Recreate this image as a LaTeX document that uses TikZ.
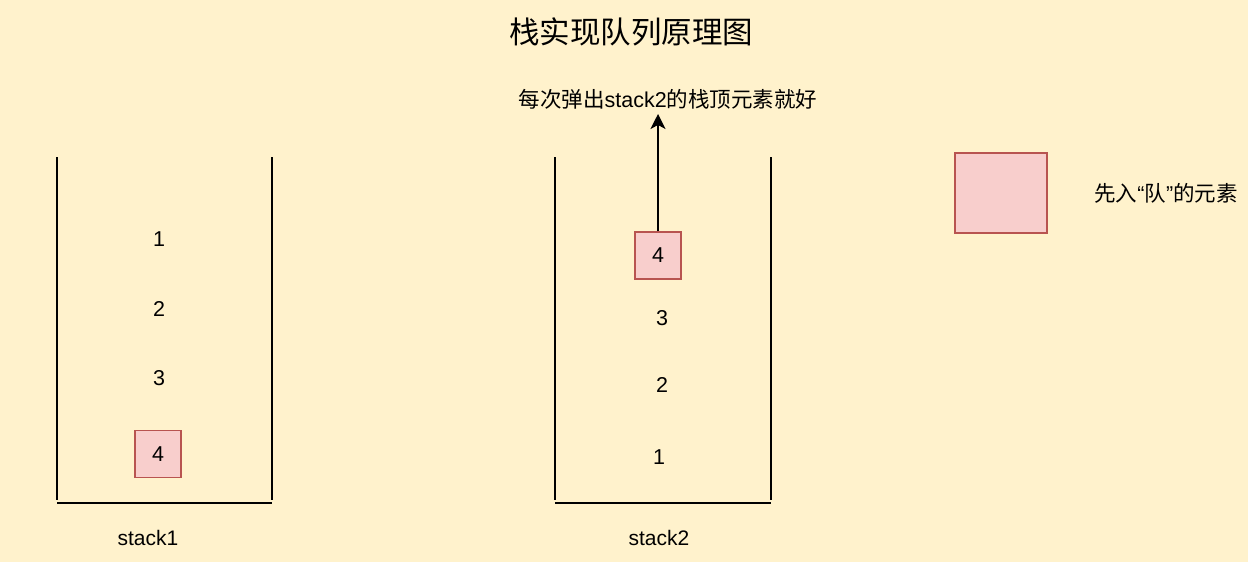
\documentclass[tikz,border=0pt]{standalone}
\usepackage{fontspec}
\usepackage{xcolor}
\usepackage{tikz}
\usetikzlibrary{arrows.meta}
\setmainfont{Liberation Sans}
\newfontfamily\cjk{Noto Sans CJK SC}
\definecolor{bgyellow}{HTML}{FFF2CC}
\definecolor{elemfill}{HTML}{F8CECC}
\definecolor{elemline}{HTML}{B85450}

\begin{document}
\begin{tikzpicture}[x=1pt, y=-1pt,
  wall/.style={line width=1.6pt, line cap=butt},
  elem/.style={draw=elemline, fill=elemfill, line width=1.3pt, minimum width=46pt, minimum height=47pt, inner sep=0pt, font=\fontsize{21.5}{26}\selectfont},
  num/.style={font=\fontsize{21.5}{26}\selectfont, inner sep=0pt},
  txt/.style={font=\fontsize{21.5}{26}\selectfont, inner sep=0pt}]
  \fill[bgyellow] (0,0) rectangle (1248,562);
  \useasboundingbox (0,0) rectangle (1248,562);
  % title
  \node[font=\fontsize{30.5}{36}\selectfont\cjk, inner sep=0pt] (title) at (631,32) {栈实现队列原理图};
  % stack1
  \draw[wall] (57,157) -- (57,500);
  \draw[wall] (272,157) -- (272,500);
  \draw[wall] (57,503) -- (272,503);
  \node[num] (a1) at (159,239) {1};
  \node[num] (a2) at (159,309) {2};
  \node[num] (a3) at (159,378) {3};
  \node[elem] (a4) at (158,454) {4};
  \node[txt, font=\fontsize{21}{26}\selectfont] (lab1) at (148,538) {stack1};
  % stack2
  \draw[wall] (555,157) -- (555,500);
  \draw[wall] (771,157) -- (771,500);
  \draw[wall] (555,503) -- (771,503);
  \node[elem] (b4) at (658,255.5) {4};
  \node[num] (b3) at (662,318) {3};
  \node[num] (b2) at (662,385) {2};
  \node[num] (b1) at (659,457) {1};
  \node[txt, font=\fontsize{21}{26}\selectfont] (lab2) at (659,538) {stack2};
  % pop
  \node[txt] (hint) at (668,99) {{\cjk 每次弹出}stack2{\cjk 的栈顶元素就好}};
  \coordinate (tip) at (658,114);
  \draw[line width=1.6pt, -{Stealth[length=15pt, width=15pt, inset=4pt]}] (b4.north) -- (tip);
  % legend
  \node[elem, minimum width=92pt, minimum height=80pt] (key) at (1001,193) {};
  \node[txt] (keytxt) at (1166,193) {{\cjk 先入}“{\cjk 队}”{\cjk 的元素}};
\end{tikzpicture}
\end{document}
